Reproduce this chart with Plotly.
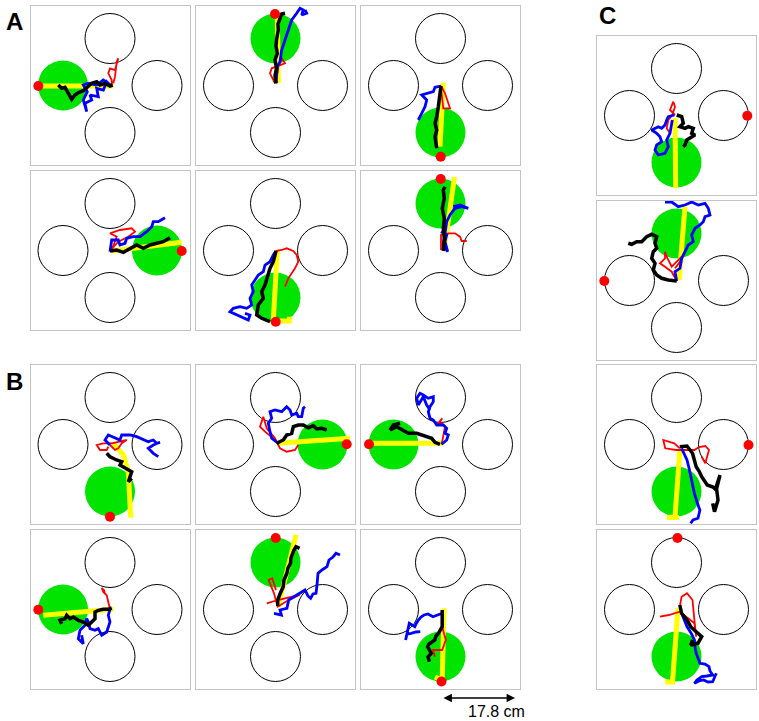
import plotly.graph_objects as go

W, H = 759, 721
PANEL = 159

panel_ids = ["A1", "A2", "A3", "A4", "A5", "A6",
             "B1", "B2", "B3", "B4", "B5", "B6",
             "C1", "C2", "C3", "C4"]
panel_origin = {
    "A1": (30.5, 6), "A2": (196, 6), "A3": (361, 6),
    "A4": (30.5, 171), "A5": (196, 171), "A6": (361, 171),
    "B1": (30.5, 365), "B2": (196, 365), "B3": (361, 365),
    "B4": (30.5, 530), "B5": (196, 530), "B6": (361, 530),
    "C1": (597, 36), "C2": (597, 201), "C3": (597, 365), "C4": (597, 530),
}
# arena geometry (panel units)
circle_centers = {"top": (79.5, 32.5), "left": (32.5, 79.5),
                  "right": (126.5, 79.5), "bottom": (79.5, 126.5)}
circle_radius = 25

goal_side = {"A1": "left", "A2": "top", "A3": "bottom", "A4": "right",
             "A5": "bottom", "A6": "top", "B1": "bottom", "B2": "right",
             "B3": "left", "B4": "left", "B5": "top", "B6": "bottom",
             "C1": "bottom", "C2": "top", "C3": "bottom", "C4": "bottom"}

start_dot = {"A1": (7.8, 80), "A2": (79, 8), "A3": (79.7, 150.7), "A4": (151.2, 80),
             "A5": (79.7, 150.7), "A6": (79.7, 8), "B1": (79.5, 151.7), "B2": (150.7, 79.3),
             "B3": (8, 79.3), "B4": (7.8, 79.7), "B5": (79.7, 8), "B6": (80.5, 151.5),
             "C1": (150.3, 79.7), "C2": (7.3, 80), "C3": (151.5, 80), "C4": (80.5, 8)}

yellow = {
    "A1": [(7.8, 80), (82.8, 80)],
    "A2": [(81.3, 9), (82.3, 77)],
    "A3": [(82.3, 76.7), (79, 140.7)],
    "A4": [(81.2, 80), (151.2, 71.3)],
    "A5": [(81.3, 79), (77.3, 150), (93.3, 150), (93.3, 145.7)],
    "A6": [(83.3, 78), (89, 35), (93.5, 6)],
    "B1": [(82.8, 78.3), (92.8, 90), (97.8, 106.7), (99.5, 130), (100.2, 152.7)],
    "B2": [(81.3, 78.3), (154, 73.3)],
    "B3": [(8, 78.3), (82.3, 78.3)],
    "B4": [(12.8, 85.3), (82.8, 79.3)],
    "B5": [(82, 77), (100, 5)],
    "B6": [(83, 78.3), (81.2, 150), (74, 147)],
    "C1": [(78, 82.3), (78.7, 152.3)],
    "C2": [(82, 79), (88, 5.7)],
    "C3": [(82.8, 86), (78, 152), (70, 152.5), (82, 152.5)],
    "C4": [(81, 78.3), (75.5, 152), (68.2, 152), (76, 152)],
}

black = {
    "A1": [(27.8, 79), (31.2, 82.3), (34.5, 81.3), (37.8, 87.3), (41.2, 93.3), (44.5, 89), (47.8, 86.7),
           (52.8, 84.7), (56.8, 81.3), (61.2, 77.3), (66.2, 75.7), (69.5, 79), (74.5, 77.3), (79.5, 80), (82.2, 79)],
    "A2": [(80, 77.3), (79, 70), (80.5, 62), (79, 54), (81.3, 47.3), (80, 40), (80.5, 34), (82.3, 24),
           (82, 18), (83.3, 14), (85.7, 8), (89, 7.3)],
    "A3": [(80, 80), (79, 90.7), (77.3, 100.7), (75.7, 110.7), (74, 117.3), (75.7, 124), (74, 130.7), (75.7, 142.3)],
    "A4": [(79.5, 80), (86.2, 79), (92.8, 81.3), (99.5, 77.3), (106.2, 74), (112.8, 77.3), (119.5, 74),
           (126.2, 72.3), (132.8, 70.7), (139.5, 66.7)],
    "A5": [(80, 80), (77.3, 90.7), (74, 97.3), (70.7, 107.3), (69, 114), (65.7, 120.7), (67.3, 127.3),
           (62.3, 134), (60.7, 144), (65.7, 147.3), (70.7, 149), (74, 150.7)],
    "A6": [(82.3, 80), (83.3, 67.3), (82.3, 57.3), (83.3, 47.3), (81.3, 37.3), (83.3, 27.3), (82.3, 19), (84, 15.7)],
    "B1": [(76.2, 88.3), (79.5, 91.7), (86.2, 95), (91.2, 96.7), (89.5, 100), (96.2, 103.3), (101.2, 106.7),
           (97.8, 116.7), (101.2, 113.3)],
    "B2": [(80.7, 78.3), (87.3, 75), (90.7, 70), (95.7, 68.3), (97.3, 61.7), (102.3, 60), (107.3, 60),
           (112.3, 62.7), (117.3, 60.7), (120.7, 64), (125.7, 63.3), (130.7, 65)],
    "B3": [(79, 79.3), (74, 77.3), (70.7, 73.3), (65.7, 71.7), (60.7, 70), (55.7, 68.3), (47.3, 68.3),
           (40.7, 65), (35.7, 61.7), (29, 65), (32.3, 60), (39, 58.3)],
    "B4": [(31.2, 93.7), (29.5, 90.3), (34.5, 88.7), (36.2, 85.3), (39.5, 88.7), (42.8, 87), (47.8, 90.3),
           (52.8, 92), (57.8, 95.3), (61.2, 92), (64.5, 88.7), (64.5, 82), (67.8, 80.3), (72.8, 79.3),
           (77.8, 79.3), (81.2, 78)],
    "B5": [(81.7, 76), (81.7, 70), (84, 64), (87.2, 56.7), (88, 50), (90.9, 43.3), (92, 38), (94.5, 33.3),
           (95, 28), (96.3, 23.3), (98, 20), (100, 16.7), (103.6, 18.3)],
    "B6": [(81.2, 80), (81.5, 88), (81.2, 96.7), (77.5, 103.3), (75, 106), (73.9, 110), (68, 114), (66.6, 116.7),
           (70.2, 123.3), (67, 127), (68.4, 131.7)],
    "C1": [(79.7, 79), (84.7, 80.7), (86.3, 87.3), (83, 90.7), (88, 92.3), (91.3, 90.7), (96.3, 92.3),
           (94.7, 97.3), (98, 99), (93, 102.3), (89.7, 104), (88, 109), (86.3, 110.7)],
    "C2": [(79.7, 80), (71.3, 79), (64.7, 77.3), (59.7, 74), (56.3, 69), (58, 62.3), (54.7, 57.3), (56.3, 50.7),
           (59.7, 47.3), (58, 42.3), (59.7, 35.7), (54.7, 33.3), (49.7, 35.7), (44.7, 40.7), (39.7, 40.7),
           (34.7, 43.3), (31.3, 42.3)],
    "C3": [(82.8, 81.7), (90, 81), (95.5, 88.3), (97, 95), (99.2, 101.7), (102, 106), (104.7, 111.7),
           (110.2, 120), (116, 122), (119.3, 125), (123, 110), (121, 116), (119.3, 121.7), (121, 135),
           (117.5, 146.7), (115.7, 138.3)],
    "C4": [(82.8, 75), (84.6, 83.3), (90, 90), (93.7, 96.7), (99.2, 101.7), (104.7, 106.7), (101, 113.3),
           (93.7, 115), (95.5, 110)],
}

blue = {
    "A1": [(79.5, 79), (76.2, 75.7), (72.8, 84), (66.2, 82.3), (67.8, 90.7), (59.5, 89), (61.2, 94), (54.5, 97.3),
           (56.2, 105.7), (52.8, 94), (56.8, 85.7), (52.8, 79), (57.8, 77.3), (66.2, 79), (72.8, 74), (77.8, 77.3)],
    "A2": [(80, 77.3), (81.3, 60.7), (84, 55.7), (85.7, 44), (89, 34), (92.3, 24), (95.7, 14), (100.7, 7.3),
           (104, 2.3), (107.3, 4), (105.7, 9), (110.7, 7.3), (109, 4)],
    "A3": [(80, 80), (74, 81.3), (72.3, 85.7), (65.7, 87.3), (60.7, 89), (65.7, 94), (64, 100.7), (60.7, 107.3),
           (57.3, 114)],
    "A4": [(79.5, 80.7), (81.2, 69), (87.8, 69), (89.5, 74), (94.5, 72.3), (96.2, 67.3), (102.8, 65.7),
           (109.5, 65.7), (116.2, 60.7), (121.2, 55.7), (122.8, 50.7), (127.8, 50.7), (134.5, 46.7)],
    "A5": [(80, 80), (77.3, 84), (74, 90.7), (69, 94), (67.3, 100.7), (62.3, 104), (59, 109), (55.7, 114),
           (57.3, 120.7), (54, 127.3), (55.7, 134), (50.7, 137.3), (44, 135.7), (37.3, 137.3), (34, 140.7),
           (40.7, 144), (47.3, 147.3), (52.3, 149), (54, 144), (49, 142.3)],
    "A6": [(80, 60.7), (85.7, 64), (84, 70.7), (86.7, 80.7), (82.3, 74), (84, 60.7), (85.7, 50.7), (89, 44),
           (94, 37.3), (100.7, 35.7), (107.3, 37.3), (99, 34), (92.3, 35.7)],
    "B1": [(79.5, 80), (74.5, 75), (77.8, 70), (84.5, 73.3), (89.5, 75), (91.2, 70), (99.5, 70), (106.2, 71.7),
           (112.8, 75), (117.8, 76.7), (122.8, 75), (126.2, 78.3), (129.5, 77.3), (122.8, 80), (117.8, 83.3),
           (122.8, 88.3), (127.8, 91.7)],
    "B2": [(82.3, 78.3), (75.7, 73.3), (74, 66.7), (72.3, 58.3), (75.7, 53.3), (74, 46.7), (79, 45),
           (85.7, 46.7), (90.7, 41.7), (94, 45), (95.7, 50), (100.7, 48.3), (102.3, 51.7), (105.7, 51.7),
           (107.3, 43.3), (109, 41.7)],
    "B3": [(80.7, 79.3), (85.7, 75), (87.3, 70), (84, 68.3), (85.7, 63.3), (82.3, 60), (75.7, 60), (72.3, 55),
           (69, 53.3), (67.3, 46.7), (69, 41.7), (72.3, 36.7), (72.3, 31.7), (67.3, 33.3), (62.3, 30), (59, 28.3),
           (55.7, 33.3), (57.3, 40), (62.3, 31.7), (65.7, 40), (69, 45)],
    "B4": [(79.5, 79.3), (77.8, 85.3), (79.5, 92), (76.2, 102), (71.2, 105.3), (67.8, 98.7), (64.5, 100.3),
           (59.5, 98.7), (57.8, 92), (56.2, 88.7), (54.5, 95.3), (49.5, 100.3), (47.8, 108.7), (52.8, 113.7),
           (51.2, 105.3)],
    "B5": [(78, 83.3), (85.4, 85), (84, 80), (90.9, 78.3), (92.7, 70), (98, 67), (103.6, 63.3), (109, 60),
           (112, 66), (114.6, 68.3), (117, 64), (120, 63.3), (121, 55), (122, 43.3), (126, 40), (131, 36.7),
           (133, 30), (137, 27), (140, 23.3), (144, 25)],
    "B6": [(81.2, 83.3), (76, 85), (72, 86.7), (67, 84), (63, 85), (60, 87), (57.4, 90), (55, 94), (53.8, 96.7),
           (48.3, 93.3), (47, 100), (44.6, 110), (46, 104), (50.1, 103.3), (55, 102), (59.3, 101.7)],
    "C1": [(77.3, 79), (71.3, 80.7), (69.7, 84), (68, 89), (64.7, 92.3), (61.3, 90.7), (54.7, 94), (59.7, 97.3),
           (63, 100.7), (64.7, 105.7), (59.7, 109), (58, 114), (61.3, 119), (68, 117.3), (71.3, 110.7),
           (69.7, 104), (73, 97.3), (75.3, 84)],
    "C2": [(79.7, 80), (78, 70.7), (83, 67.3), (84.7, 57.3), (88, 50.7), (91.3, 44), (96.3, 40.7), (94.7, 34),
           (98, 27.3), (103, 24), (106.3, 20.7), (108, 15.7), (113, 14), (111.3, 7.3), (108, 2.3), (101.3, 4),
           (94.7, 1), (88, 4), (81.3, 5.7), (74.7, 1), (68, 1)],
    "C3": [(84.6, 83.3), (87, 89), (90, 95), (92, 103), (93.7, 111.7), (95.5, 120), (97.4, 128.3), (100, 137),
           (102.9, 145), (101, 153.3), (96, 155), (93.7, 158.3)],
    "C4": [(84.6, 83.3), (87, 90), (90, 96.7), (94, 103), (97.4, 110), (98, 117), (99.2, 123.3), (101, 128),
           (102.9, 133.3), (108, 134), (112, 136.7), (113, 141), (115.7, 145), (110, 146), (104.7, 146.7),
           (100, 150), (97.4, 153.3), (102, 151), (106.5, 150), (111, 152), (115.7, 151.7), (119.3, 143.3)],
}

red = {
    "A1": [(81.2, 79), (81.2, 74), (77.8, 67.3), (79.5, 62.3), (84.5, 64), (86.2, 57.3), (87.8, 52.3),
           (86.2, 55.7), (84.5, 70.7), (82.8, 77.3)],
    "A2": [(79, 77.3), (74, 67.3), (75.7, 62.3), (84, 59), (89, 57.3), (85.7, 52.3), (82.3, 60.7), (81.3, 67.3),
           (80, 75.7)],
    "A3": [(80, 80), (84, 87.3), (89, 102.3), (82.3, 102.3), (80, 82.3)],
    "A4": [(79.5, 80), (87.8, 70.7), (97.8, 65.7), (104.5, 60.7), (101.2, 57.3), (89.5, 59), (79.5, 62.3),
           (86.2, 65.7), (81.2, 79)],
    "A5": [(80, 80), (85.7, 79), (90.7, 77.3), (97.3, 80), (100.7, 84), (102.3, 90.7), (99, 97.3), (95.7, 102.3),
           (92.3, 107.3), (89, 115.7)],
    "A6": [(80, 79), (80, 64), (87.3, 62.3), (94, 62.3), (99, 65.7), (100.7, 70), (105.7, 70)],
    "B1": [(79.5, 80), (84.5, 85), (87.8, 83.3), (91.2, 78.3), (96.2, 75), (89.5, 76.7), (81.2, 78.3),
           (72.8, 78.3), (66.2, 80), (69.5, 85), (76.2, 85), (77.8, 81.7)],
    "B2": [(82.3, 78.3), (77.3, 73.3), (69, 66.7), (64, 61.7), (67.3, 51.7), (70.7, 63.3), (79, 73.3),
           (84, 83.3), (90.7, 86.7), (99, 85), (102.3, 80)],
    "B3": [(80.7, 79.3), (82.3, 70), (84, 61.7), (80.7, 58.3), (77.3, 58.3), (75.7, 60), (81.3, 53.3), (79, 56.7)],
    "B4": [(79.5, 79.3), (77.8, 72), (76.2, 65.3), (72.8, 62), (71.2, 58), (73.5, 60.3), (74.5, 63.7)],
    "B5": [(70.8, 73.3), (81.7, 70), (103.6, 65), (92.7, 70), (81.7, 76.7), (78, 63.3), (72.6, 50),
           (76.2, 48.3), (80, 60)],
    "B6": [(81.2, 96.7), (84.8, 110), (81.2, 120), (72, 120), (73.9, 126.7)],
    "C1": [(78, 79), (73, 74), (76.3, 65.7), (78, 70.7), (75.3, 79), (71.3, 84), (69.7, 92.3), (73, 97.3)],
    "C2": [(79.7, 80), (74.7, 70.7), (68, 65.7), (63, 62.3), (68, 57.3), (68, 50.7), (69.7, 55.7), (74.7, 65.7),
           (79.7, 60.7), (84.7, 55.7), (83, 60.7), (78, 67.3)],
    "C3": [(82.8, 83.3), (77.3, 78.3), (66.3, 75), (68.2, 83.3), (79.2, 85), (97.4, 85), (102, 82),
           (108.3, 81), (112, 85), (108.3, 98.3), (104.7, 91.7)],
    "C4": [(82.8, 76.7), (84.6, 66.7), (90, 63.3), (95.5, 70), (97.4, 90), (99.2, 106.7), (97.4, 93.3),
           (82.8, 81.7), (71.8, 85), (62.9, 86.7)],
}

panel_letters = [("A", 14, 22), ("B", 14, 381), ("C", 607, 16)]
scale_bar_px = (442, 515, 698)
scale_label = "17.8 cm"

fig = go.Figure()
layout = dict(width=W, height=H, margin=dict(l=0, r=0, t=0, b=0),
              paper_bgcolor="white", plot_bgcolor="white", showlegend=False)
shapes = []

for i, pid in enumerate(panel_ids):
    n = i + 1
    ax = "" if n == 1 else str(n)
    x0, y0 = panel_origin[pid]
    layout["xaxis" + ax] = dict(domain=[x0 / W, (x0 + PANEL) / W], range=[0, PANEL],
                                showgrid=False, zeroline=False, showticklabels=False, ticks="",
                                showline=True, mirror=True, linecolor="#c4c4c4", linewidth=1,
                                anchor="y" + ax, fixedrange=True)
    layout["yaxis" + ax] = dict(domain=[1 - (y0 + PANEL) / H, 1 - y0 / H], range=[PANEL, 0],
                                showgrid=False, zeroline=False, showticklabels=False, ticks="",
                                showline=True, mirror=True, linecolor="#c4c4c4", linewidth=1,
                                anchor="x" + ax, fixedrange=True)
    xr, yr = "x" + ax, "y" + ax
    for side, (cx, cy) in circle_centers.items():
        if side == goal_side[pid]:
            shapes.append(dict(type="circle", xref=xr, yref=yr, x0=cx - circle_radius, x1=cx + circle_radius,
                               y0=cy - circle_radius, y1=cy + circle_radius, fillcolor="#00e400",
                               line=dict(width=0), layer="below"))
        else:
            shapes.append(dict(type="circle", xref=xr, yref=yr, x0=cx - circle_radius, x1=cx + circle_radius,
                               y0=cy - circle_radius, y1=cy + circle_radius,
                               line=dict(color="black", width=1), layer="below"))
    for pts, col, wd in [(yellow[pid], "#ffff00", 5), (red[pid], "#ff0000", 1.8),
                         (blue[pid], "#0000ff", 2.8), (black[pid], "black", 3.5)]:
        fig.add_trace(go.Scatter(x=[p[0] for p in pts], y=[p[1] for p in pts], mode="lines",
                                 line=dict(color=col, width=wd), xaxis=xr, yaxis=yr, hoverinfo="skip"))
    dx, dy = start_dot[pid]
    fig.add_trace(go.Scatter(x=[dx], y=[dy], mode="markers", marker=dict(color="#ff0000", size=10),
                             xaxis=xr, yaxis=yr, hoverinfo="skip", cliponaxis=False))

annotations = []
for letter, lx, ly in panel_letters:
    annotations.append(dict(text="<b>%s</b>" % letter, x=lx / W, y=1 - ly / H, xref="paper", yref="paper",
                            showarrow=False, xanchor="center", yanchor="middle",
                            font=dict(family="Liberation Sans, Arial", size=24, color="black")))
bx0, bx1, by = scale_bar_px
annotations.append(dict(x=bx1 / W, y=1 - by / H, ax=-(bx1 - bx0), ay=0, xref="paper", yref="paper",
                        axref="pixel", ayref="pixel", text="", showarrow=True, arrowhead=2,
                        arrowside="end+start", arrowsize=1.2, arrowwidth=1.4, arrowcolor="black",
                        standoff=0, startstandoff=0))
annotations.append(dict(text=scale_label, x=496 / W, y=1 - 711 / H, xref="paper", yref="paper",
                        showarrow=False, xanchor="center", yanchor="middle",
                        font=dict(family="Liberation Sans, Arial", size=16, color="black")))
layout["shapes"] = shapes
layout["annotations"] = annotations
fig.update_layout(**layout)
fig.write_html("out.html", config={"displayModeBar": False},
               post_script="document.body.style.margin='0px';document.body.style.padding='0px';")
